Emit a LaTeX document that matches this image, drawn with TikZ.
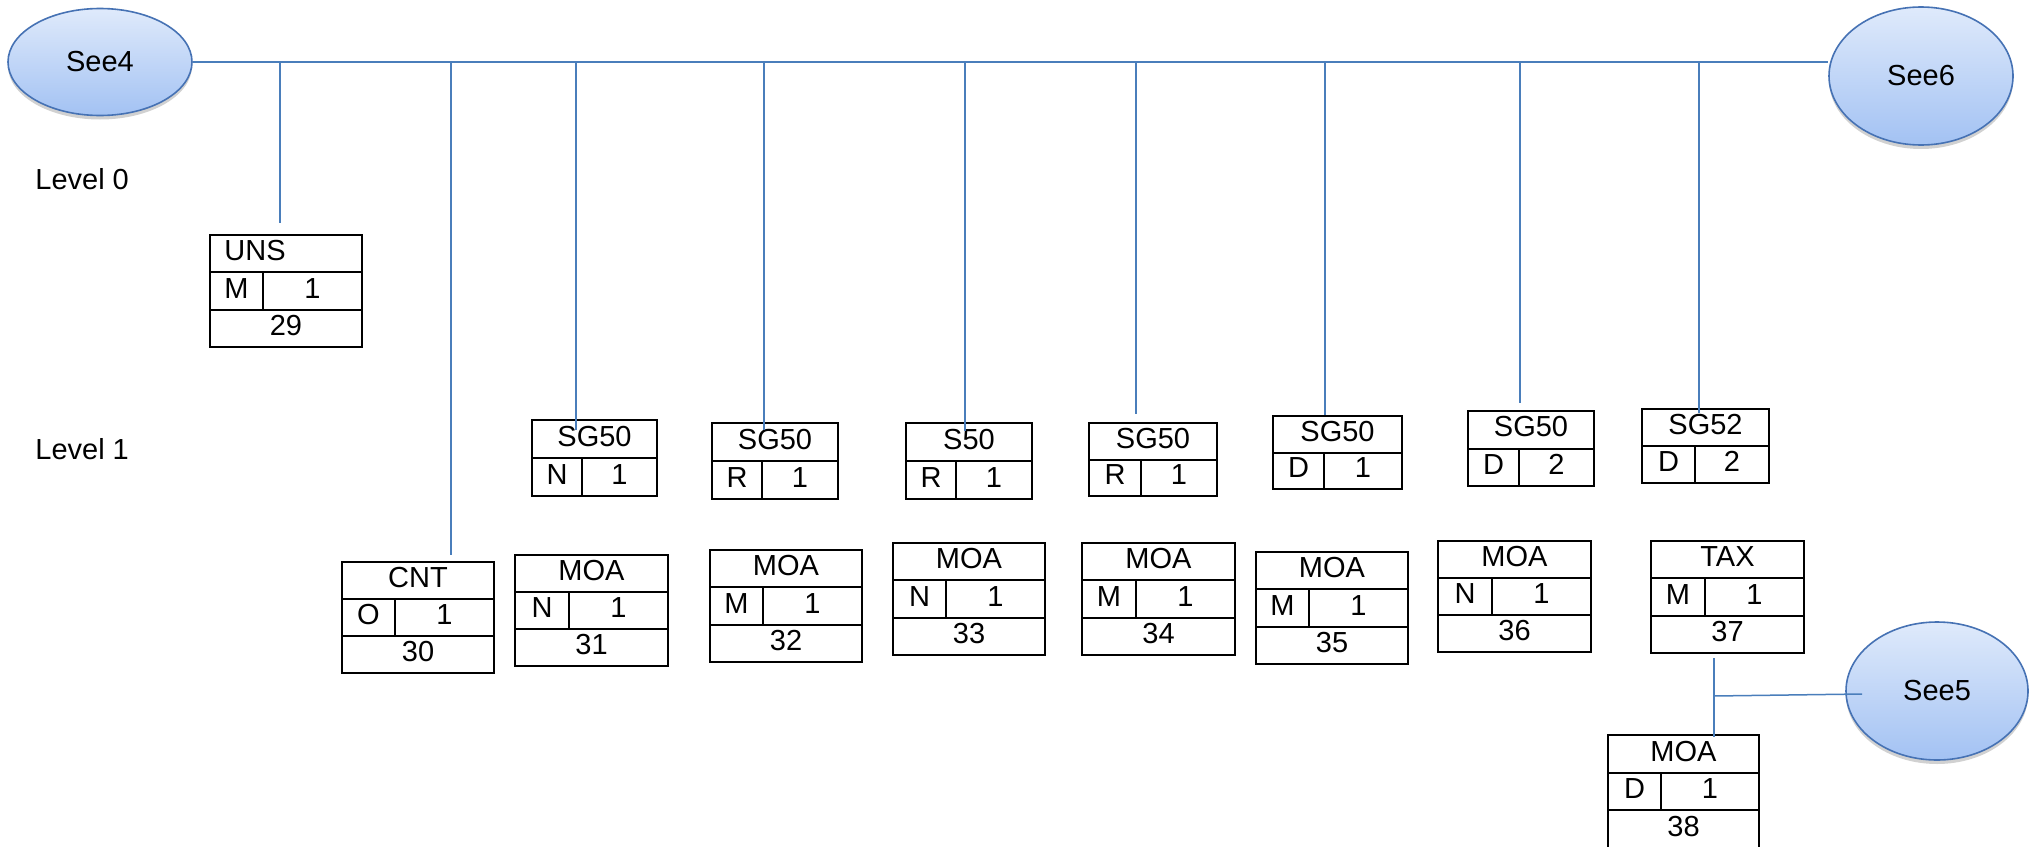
\documentclass[tikz,border=0pt]{standalone}
\usepackage{fontspec}
\setmainfont{Liberation Sans}
\usetikzlibrary{fit,calc,shapes.geometric,shadows}
\definecolor{lineblue}{HTML}{4A7EBB}
\definecolor{ovaltop}{HTML}{DFEAFB}
\definecolor{ovalbot}{HTML}{A3C2F3}
\definecolor{ovalline}{HTML}{4672B4}
\tikzset{
  segbox/.style={draw=black, line width=1pt, inner sep=0pt, outer sep=0pt},
  segline/.style={draw=black, line width=1pt},
  segtext/.style={font=\fontsize{14.5}{16}\selectfont, inner sep=0pt, text height=0.716em, text depth=0pt},
  bl/.style={draw=lineblue, line width=0.75pt},
  oval/.style={ellipse, draw=ovalline, line width=0.8pt, top color=ovaltop, bottom color=ovalbot,
    inner sep=0pt, font=\fontsize{14.5}{16}\selectfont,
    drop shadow={shadow xshift=0pt, shadow yshift=-2pt, opacity=0.18, fill=black}},
  lvl/.style={font=\fontsize{14.5}{16}\selectfont, inner sep=0pt, anchor=west, text height=0.716em, text depth=0pt}
}
% three-row box: name, corner1, corner2, column x, title, code, count, number
\newcommand\segthree[8]{%
  \coordinate (#1nw) at (#2);
  \coordinate (#1se) at (#3);
  \node[segbox, fit=(#1nw)(#1se)] (#1) {};
  \path (#1.north west) -- (#1.south west) coordinate[pos=1/3] (#1a) coordinate[pos=2/3] (#1b);
  \coordinate (#1c) at (#4,0);
  \draw[segline] (#1a) -- (#1a -| #1.east);
  \draw[segline] (#1b) -- (#1b -| #1.east);
  \draw[segline] (#1a -| #1c) -- (#1b -| #1c);
  \node[segtext] (#1t) at ($(#1.north)!1/6!(#1.south)$) {#5};
  \node[segtext] (#1k) at ($(#1a)!0.5!(#1b -| #1c)$) {#6};
  \node[segtext] (#1n) at ($(#1a -| #1c)!0.5!(#1b -| #1.east)$) {#7};
  \node[segtext] (#1m) at ($(#1.north)!5/6!(#1.south)$) {#8};
}
% two-row box: name, corner1, corner2, column x, title, code, count
\newcommand\segtwo[7]{%
  \coordinate (#1nw) at (#2);
  \coordinate (#1se) at (#3);
  \node[segbox, fit=(#1nw)(#1se)] (#1) {};
  \path (#1.north west) -- (#1.south west) coordinate[pos=1/2] (#1a);
  \coordinate (#1c) at (#4,0);
  \draw[segline] (#1a) -- (#1a -| #1.east);
  \draw[segline] (#1a -| #1c) -- (#1c |- #1.south);
  \node[segtext] (#1t) at ($(#1.north)!1/4!(#1.south)$) {#5};
  \node[segtext] (#1k) at ($(#1a)!0.5!(#1c |- #1.south)$) {#6};
  \node[segtext] (#1n) at ($(#1a -| #1c)!0.5!(#1.south east)$) {#7};
}
\begin{document}
\begin{tikzpicture}[x=0.5pt,y=-0.5pt]
\useasboundingbox (0,0) rectangle (2029,846);
\fill[white] (0,0) rectangle (2029,846);

% ovals
\node[oval, minimum width=92pt, minimum height=53.5pt] (see4) at (100,62) {See4};
\node[oval, minimum width=92pt, minimum height=69pt] (see6) at (1921,76) {See6};
\node[oval, minimum width=91pt, minimum height=69pt] (see5) at (1937,691) {See5};

% level labels
\node[lvl] (lvl0) at (35,182) {Level 0};
\node[lvl] (lvl1) at (35,452) {Level 1};

% boxes
\segthree{uns}{210,235}{362,347}{263}{UNS\hspace*{31pt}}{M}{1}{29}
\segthree{cnt}{342,562}{494,673}{395}{CNT}{O}{1}{30}
\segthree{moaA}{515,555}{668,666}{569}{MOA}{N}{1}{31}
\segthree{moaB}{710,550}{862,662}{763}{MOA}{M}{1}{32}
\segthree{moaC}{893,543}{1045,655}{946}{MOA}{N}{1}{33}
\segthree{moaD}{1082,543}{1235,655}{1136}{MOA}{M}{1}{34}
\segthree{moaE}{1256,552}{1408,664}{1309}{MOA}{M}{1}{35}
\segthree{moaF}{1438,541}{1591,652}{1492}{MOA}{N}{1}{36}
\segthree{tax}{1651,541}{1804,653}{1705}{TAX}{M}{1}{37}
\segthree{moaG}{1608,735}{1759,848}{1661}{MOA}{D}{1}{38}

\segtwo{sgA}{532,420}{657,496}{582}{SG50}{N}{1}
\segtwo{sgB}{712,423}{838,499}{762}{SG50}{R}{1}
\segtwo{sgC}{906,423}{1032,499}{956}{S50}{R}{1}
\segtwo{sgD}{1089,423}{1217,496}{1141}{SG50}{R}{1}
\segtwo{sgE}{1273,416}{1402,489}{1324}{SG50}{D}{1}
\segtwo{sgF}{1468,411}{1594,486}{1519}{SG50}{D}{2}
\segtwo{sgG}{1642,409}{1769,483}{1695}{SG52}{D}{2}

% bus line
\draw[bl] (see4.east) -- (see4.east -| see6.west);

% drops from the bus
\coordinate (dUNS) at (280,223);
\coordinate (dCNT) at (451,555);
\coordinate (dA) at (576,430);
\coordinate (dB) at (764,430);
\coordinate (dC) at (965,431);
\coordinate (dD) at (1136,414);
\coordinate (dE) at (1325,415);
\coordinate (dF) at (1520,403);
\coordinate (dG) at (1699,413);
\foreach \d in {dUNS,dCNT,dA,dB,dC,dD,dE,dF,dG}
  \draw[bl] (\d |- see4.east) -- (\d);

% TAX to MOA 38 and See5
\coordinate (tx1) at (1714,658);
\coordinate (tx2) at (1714,737);
\coordinate (tx3) at (1714,696);
\coordinate (tx4) at (1862,694);
\draw[bl] (tx1) -- (tx2);
\draw[bl] (tx3) -- (tx4);
\end{tikzpicture}
\end{document}
